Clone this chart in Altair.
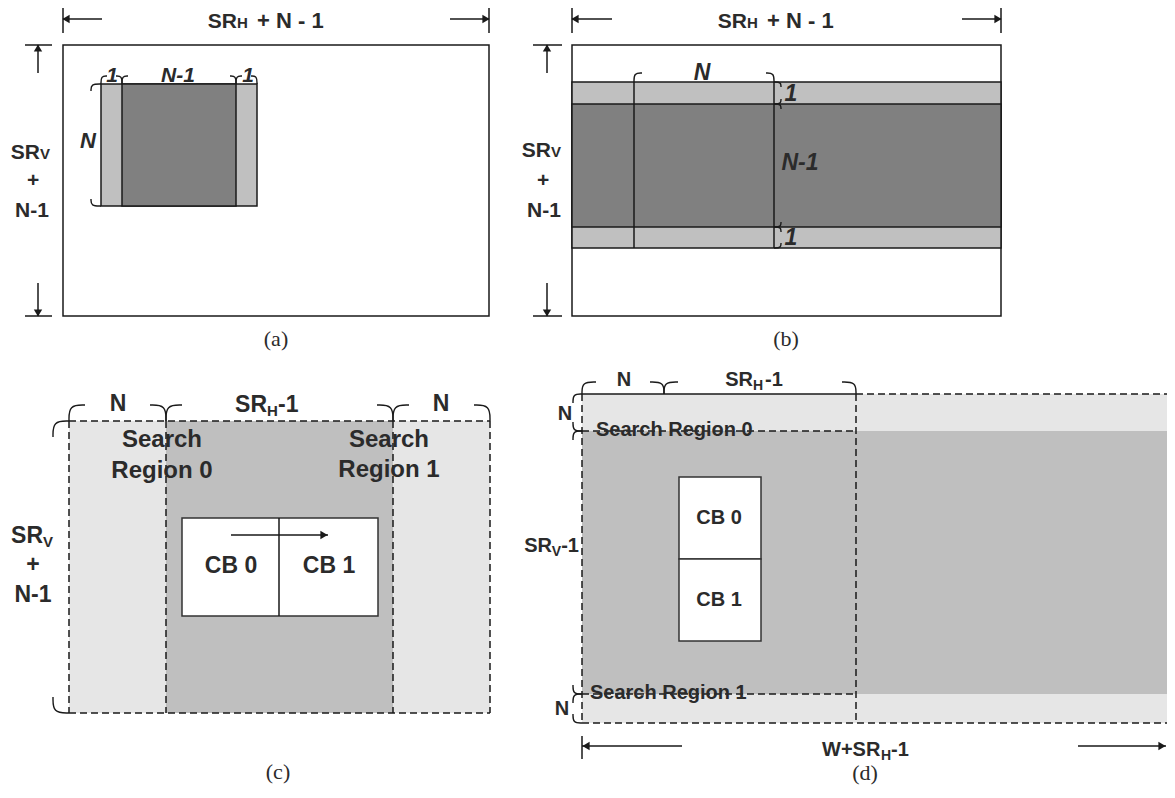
import altair as alt
import pandas as pd

INK = "#2b2b2b"
LINE = "#1a1a1a"

# ---------------- geometry of the diagram (canvas pixels) ----------------
# filled blocks: (a) (b) (c) (d)
rect_x0 = [63, 101, 122, 572, 572, 572, 69, 166, 182, 582, 582, 679, 679]
rect_x1 = [489, 257, 236, 1001, 1001, 1001, 490, 393, 378, 1175, 1175, 761, 761]
rect_y0 = [45, 84, 84, 45, 82, 104, 421, 421, 518, 394, 431, 477, 559]
rect_y1 = [316, 206, 206, 316, 248, 227, 713, 713, 616, 723, 694, 559, 641]
rect_tone = ["paper", "light", "dark", "paper", "light", "dark",
             "pale", "mid", "paper", "pale", "mid", "paper", "paper"]
rect_edge = ["line", "line", "line", "line", "line", "line",
             "none", "none", "thin", "none", "none", "thin", "thin"]

# straight segments
seg_x0 = [63, 63, 450, 489, 25, 38, 25, 38,
          572, 572, 962, 1001, 533, 547, 533, 547, 634, 774,
          279, 231,
          582, 582, 582, 1078,
          69, 69, 69, 490, 166, 393,
          856, 582, 582, 856, 582, 582]
seg_y0 = [5, 19, 19, 5, 45, 45, 316, 283,
          5, 19, 19, 5, 45, 45, 316, 283, 82, 82,
          518, 535,
          394, 736, 746, 746,
          421, 713, 421, 421, 421, 421,
          394, 723, 394, 394, 431, 694]
seg_x1 = [63, 102, 489, 489, 52, 38, 52, 38,
          572, 612, 1001, 1001, 562, 547, 562, 547, 634, 774,
          279, 328,
          856, 582, 682, 1166,
          490, 490, 69, 490, 166, 393,
          1175, 1175, 582, 856, 856, 856]
seg_y1 = [33, 19, 19, 33, 45, 73, 316, 316,
          33, 19, 19, 33, 45, 73, 316, 316, 248, 248,
          616, 535,
          394, 759, 746, 746,
          421, 713, 713, 713, 713, 713,
          394, 723, 723, 723, 431, 694]
seg_kind = ["solid"] * 24 + ["dashed"] * 12

# arrow heads
head_x = [66, 486, 38, 38, 575, 998, 547, 547, 324, 586, 1162]
head_y = [19, 19, 48, 313, 19, 19, 48, 313, 535, 746, 746]
head_dir = ["left", "right", "up", "down", "left", "right", "up", "down",
            "right", "left", "right"]

# curly braces: orientation, edge position, tip position, reach, contact points
brace_dir = ["h", "v", "h", "v", "h", "v", "h", "v"]
brace_base = [84, 101, 82, 774, 421, 69, 394, 582]
brace_tip = [76, 91, 73, 781, 405, 53, 382, 573]
brace_reach = [6, 7, 8, 5, 16, 16, 14, 9]
brace_marks = [[101, 122, 236, 257], [84, 206], [634, 774], [82, 104, 227, 248],
               [69, 166, 393, 490], [421, 713], [582, 664, 856], [394, 431, 694, 723]]

# labels
lab_text = ["SR", "H", "+ N - 1", "SR", "H", "+ N - 1",
            "SR", "V", "+", "N-1", "SR", "V", "+", "N-1",
            "1", "N-1", "1", "N",
            "N", "1", "N-1", "1",
            "N", "SR", "H", "-1", "N", "Search", "Region 0", "Search", "Region 1",
            "CB 0", "CB 1", "SR", "V", "+", "N-1",
            "N", "SR", "H", "-1", "N", "Search Region 0", "-1", "V", "SR",
            "Search Region 1", "N", "CB 0", "CB 1", "W+SR", "H", "-1",
            "(a)", "(b)", "(c)", "(d)"]
lab_x = [237, 237, 257, 747, 747, 767,
         40, 40, 33, 32, 551, 551, 543, 544,
         112, 178, 248, 88,
         702, 791, 800, 791,
         118, 267, 267, 278, 441, 162, 162, 389, 389,
         231, 329, 43, 43, 33, 33,
         624, 753, 753, 765, 565, 596, 579, 561, 552,
         590, 562, 719, 719, 822, 881, 891,
         276, 786, 278, 865]
lab_y = [28, 28, 28, 28, 28, 28,
         159, 159, 187, 217, 157, 157, 187, 217,
         82, 82, 82, 148,
         80, 101, 170, 245,
         411, 412, 416, 412, 411, 447, 478, 447, 477,
         573, 573, 543, 547, 572, 602,
         386, 386, 390, 386, 420, 436, 552, 556, 552,
         699, 715, 524, 606, 756, 760, 756,
         346, 346, 779, 780]
lab_group = ["ab_r", "absub_l", "abt_l", "ab_r", "absub_l", "abt_l",
             "ab_r", "absub_l", "ab_c", "ab_c", "ab_r", "absub_l", "ab_c", "ab_c",
             "ita_c", "ita_c", "ita_c", "itn_c",
             "itb_c", "itb_c", "itb_c", "itb_c",
             "c_c", "c_r", "csub_l", "c_l", "c_c", "cs_c", "cs_c", "cs_c", "cs_c",
             "c_c", "c_c", "c_r", "csub_l", "c_c", "c_c",
             "d_c", "d_r", "dsub_l", "d_l", "d_c", "d_l", "d_r", "dsub_r", "d_r",
             "d_l", "d_c", "d_c", "d_c", "d_l", "dsub_l", "d_l",
             "cap_c", "cap_c", "cap_c", "cap_c"]

# ---------------- styles ----------------
STYLE = {
    "ab": dict(size=21, italic=False, serif=False),
    "abt": dict(size=22, italic=False, serif=False),
    "absub": dict(size=15, italic=False, serif=False),
    "ita": dict(size=21, italic=True, serif=False),
    "itn": dict(size=22, italic=True, serif=False),
    "itb": dict(size=23, italic=True, serif=False),
    "c": dict(size=23, italic=False, serif=False),
    "cs": dict(size=24, italic=False, serif=False),
    "csub": dict(size=15, italic=False, serif=False),
    "d": dict(size=20, italic=False, serif=False),
    "dsub": dict(size=14, italic=False, serif=False),
    "cap": dict(size=22, italic=False, serif=True),
}
ALIGN = {"l": "left", "r": "right", "c": "center"}

xs = alt.Scale(domain=[8, 1167], nice=False, zero=False)
ys = alt.Scale(domain=[8, 786], nice=False, zero=False, reverse=True)

# ---------------- tables ----------------
rects = pd.DataFrame(dict(x=rect_x0, x2=rect_x1, y=rect_y0, y2=rect_y1,
                          tone=rect_tone, edge=rect_edge))
segs = pd.DataFrame(dict(x=seg_x0, y=seg_y0, x2=seg_x1, y2=seg_y1, kind=seg_kind))
heads = pd.DataFrame(dict(x=head_x, y=head_y, dir=head_dir))

brows = []
sid = 0
for d, base, tip, r, marks in zip(brace_dir, brace_base, brace_tip, brace_reach, brace_marks):
    for i, p in enumerate(marks):
        sides = []
        if i > 0:
            sides.append(-1)
        if i < len(marks) - 1:
            sides.append(1)
        for s in sides:
            if d == "h":
                pts = [(p, base), (p, tip), (p + s * r, tip)]
            else:
                pts = [(base, p), (tip, p), (tip, p + s * r)]
            for k, (px, py) in enumerate(pts):
                brows.append(dict(x=px, y=py, seg=sid, k=k))
            sid += 1
braces = pd.DataFrame(brows)

labels = pd.DataFrame(dict(t=lab_text, x=lab_x, y=lab_y, g=lab_group))

# ---------------- layers ----------------
rect_layer = alt.Chart(rects).mark_rect(strokeWidth=1.5).encode(
    x=alt.X("x:Q", scale=xs, axis=None), x2="x2:Q",
    y=alt.Y("y:Q", scale=ys, axis=None), y2="y2:Q",
    fill=alt.Fill("tone:N", legend=None,
                  scale=alt.Scale(domain=["paper", "light", "dark", "pale", "mid"],
                                  range=["#ffffff", "#c0c0c0", "#808080", "#e6e6e6", "#bfbfbf"])),
    stroke=alt.Stroke("edge:N", legend=None,
                      scale=alt.Scale(domain=["line", "thin", "none"],
                                      range=[LINE, "#333333", "transparent"])),
)

seg_layer = alt.Chart(segs).mark_rule(strokeWidth=1.5, color=LINE).encode(
    x=alt.X("x:Q", scale=xs, axis=None), x2="x2:Q",
    y=alt.Y("y:Q", scale=ys, axis=None), y2="y2:Q",
    strokeDash=alt.StrokeDash("kind:N", legend=None,
                              scale=alt.Scale(domain=["solid", "dashed"],
                                              range=[[1, 0], [7, 4]])),
)

head_layer = alt.Chart(heads).mark_point(filled=True, size=70, color=LINE, opacity=1).encode(
    x=alt.X("x:Q", scale=xs, axis=None),
    y=alt.Y("y:Q", scale=ys, axis=None),
    shape=alt.Shape("dir:N", legend=None,
                    scale=alt.Scale(domain=["left", "right", "up", "down"],
                                    range=["triangle-left", "triangle-right",
                                           "triangle-up", "triangle-down"])),
)

brace_layer = alt.Chart(braces).mark_line(interpolate="basis", color=LINE, strokeWidth=1.4).encode(
    x=alt.X("x:Q", scale=xs, axis=None),
    y=alt.Y("y:Q", scale=ys, axis=None),
    detail="seg:N",
    order="k:Q",
)

text_layers = []
for g in labels["g"].unique():
    key, al = g.split("_")
    st = STYLE[key]
    sub = labels[labels["g"] == g]
    mk = dict(align=ALIGN[al], baseline="alphabetic", fontSize=st["size"], color=INK)
    if st["serif"]:
        mk.update(font="Liberation Serif", fontWeight="normal")
    else:
        mk.update(font="Liberation Sans", fontWeight="bold")
    if st["italic"]:
        mk.update(fontStyle="italic")
    text_layers.append(
        alt.Chart(sub).mark_text(**mk).encode(
            x=alt.X("x:Q", scale=xs, axis=None),
            y=alt.Y("y:Q", scale=ys, axis=None),
            text="t:N",
        )
    )

chart = alt.layer(rect_layer, seg_layer, brace_layer, head_layer, *text_layers).properties(
    width=1159, height=778, padding=0, autosize="none", background="white"
).configure_view(stroke=None)

chart.save("out.html", embed_options={"renderer": "svg", "actions": False})
